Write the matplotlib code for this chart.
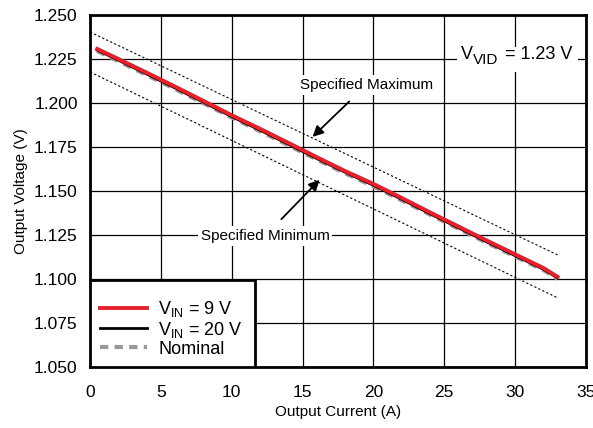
import matplotlib
matplotlib.use('Agg')
import matplotlib.pyplot as plt
from matplotlib.patches import Rectangle

plt.rcParams['font.family'] = ['Liberation Sans', 'DejaVu Sans']
plt.rcParams['mathtext.fontset'] = 'custom'
plt.rcParams['mathtext.rm'] = 'Liberation Sans'

# output current (A)
current = [0.5, 2, 4, 6, 8, 10, 12, 14, 16, 18, 20, 22, 24, 26, 28, 30, 32, 33]
# measured output voltage (V)
v_9v = [1.2307, 1.2250, 1.2172, 1.2093, 1.2012, 1.1930, 1.1853, 1.1773, 1.1692,
        1.1613, 1.1540, 1.1460, 1.1378, 1.1298, 1.1218, 1.1140, 1.1062, 1.1012]
v_20v = [1.2300, 1.2243, 1.2164, 1.2085, 1.2004, 1.1922, 1.1845, 1.1765, 1.1684,
         1.1606, 1.1532, 1.1452, 1.1370, 1.1290, 1.1210, 1.1132, 1.1055, 1.1005]
v_nom = [1.2295, 1.2237, 1.2158, 1.2079, 1.1998, 1.1917, 1.1839, 1.1759, 1.1679,
         1.1600, 1.1526, 1.1446, 1.1365, 1.1285, 1.1205, 1.1127, 1.1050, 1.1000]
# tolerance band
band_x = [0, 33]
v_max = [1.2403, 1.1136]
v_min = [1.2176, 1.0892]

fig = plt.figure(figsize=(5.93, 4.28), dpi=100)
ax = fig.add_axes([0.152, 0.143, 0.836, 0.822])

ax.plot(band_x, v_max, color='black', lw=0.8, dashes=(2, 2), zorder=3)
ax.plot(band_x, v_min, color='black', lw=0.8, dashes=(2, 2), zorder=3)
ax.plot(current, v_nom, color='#999999', lw=3.0, dashes=(2, 1.5), label='Nominal', zorder=4)
ax.plot(current, v_20v, color='black', lw=2.0, label=r'V$_{\mathrm{IN}}$ = 20 V', zorder=5)
ax.plot(current, v_9v, color='#e8202a', lw=2.8, label=r'V$_{\mathrm{IN}}$ = 9 V', zorder=6)

ax.set_xlim(0, 35)
ax.set_ylim(1.050, 1.250)
ax.set_xticks(range(0, 36, 5))
ax.set_yticks([1.050, 1.075, 1.100, 1.125, 1.150, 1.175, 1.200, 1.225, 1.250])
ax.set_yticklabels([f'{v:.3f}' for v in ax.get_yticks()])
ax.grid(True, color='black', lw=0.9)
ax.set_axisbelow(True)
ax.tick_params(length=0, labelsize=12.5)
ax.tick_params(axis='x', pad=13)
ax.tick_params(axis='y', pad=9)
for s in ax.spines.values():
    s.set_linewidth(2)
ax.set_xlabel('Output Current (A)', fontsize=11, labelpad=4)
ax.set_ylabel('Output Voltage (V)', fontsize=11, labelpad=4)

# V_VID label on a white patch that hides the grid
ax.add_patch(Rectangle((25.9, 1.2176), 8.55, 0.0142, facecolor='white',
                       edgecolor='none', zorder=6.5))
ax.text(26.18, 1.2250, 'V', fontsize=13, va='baseline', ha='left', zorder=7)
ax.text(27.03, 1.2219, 'VID', fontsize=11, va='baseline', ha='left', zorder=7)
ax.text(29.3, 1.2250, '= 1.23 V', fontsize=13, va='baseline', ha='left', zorder=7)

box = dict(facecolor='white', edgecolor='none', pad=2)
ax.annotate('Specified Maximum', xy=(15.7, 1.1807), xytext=(19.5, 1.2102),
            ha='center', va='center', fontsize=11, bbox=box, zorder=7,
            arrowprops=dict(arrowstyle='-|>', color='black', lw=1.3,
                            mutation_scale=16, shrinkA=7, shrinkB=0))
ax.annotate('Specified Minimum', xy=(16.2, 1.1563), xytext=(12.35, 1.1244),
            ha='center', va='center', fontsize=11, bbox=box, zorder=7,
            arrowprops=dict(arrowstyle='-|>', color='black', lw=1.3,
                            mutation_scale=16, shrinkA=7, shrinkB=0))

# legend box
ax.add_patch(Rectangle((0, 0), 0.333, 0.247, transform=ax.transAxes,
                       facecolor='white', edgecolor='black', lw=2, zorder=8))
handles, labels = ax.get_legend_handles_labels()
order = [2, 1, 0]
leg = ax.legend([handles[i] for i in order], [labels[i] for i in order],
                loc='lower left', bbox_to_anchor=(-0.005, -0.01), frameon=False,
                fontsize=13, handlelength=2.6, labelspacing=0.05,
                handletextpad=0.6, borderaxespad=0.3)
leg.set_zorder(9)

fig.savefig('out.png', dpi=100)
